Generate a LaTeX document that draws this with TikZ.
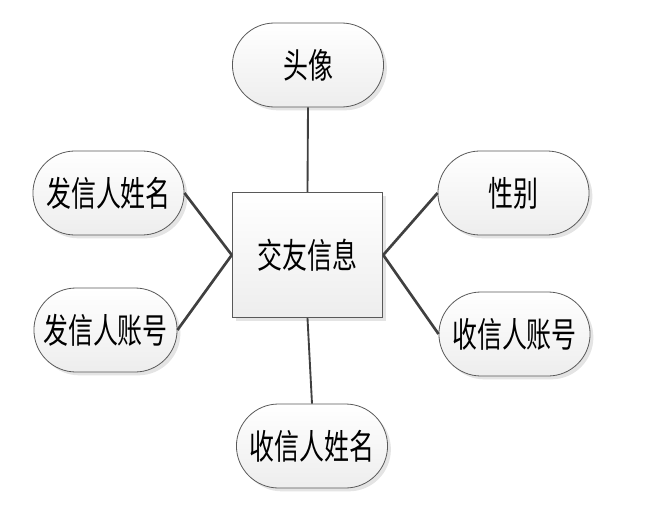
\documentclass[tikz,border=0pt]{standalone}
\usepackage{fontspec}
\newfontfamily\cjk{Noto Sans CJK SC}
\usetikzlibrary{positioning,shapes.misc,shadows}

\newcommand{\zh}[1]{\scalebox{0.72}[1]{\cjk\fontsize{26}{30}\selectfont #1}}

\tikzset{
  attr/.style={rounded rectangle, draw=gray!70!black, line width=0.6pt,
    top color=white, bottom color=gray!14, minimum width=120pt, minimum height=63pt,
    drop shadow={shadow xshift=2.5pt, shadow yshift=-2.5pt, fill=gray!35, opacity=0.6}},
  entity/.style={rectangle, draw=gray!70!black, line width=0.6pt,
    top color=white, bottom color=gray!14, minimum width=113pt, minimum height=94pt,
    drop shadow={shadow xshift=2.5pt, shadow yshift=-2.5pt, fill=gray!35, opacity=0.6}},
  link/.style={draw=black!75, line width=2pt}
}

\begin{document}
\begin{tikzpicture}[x=0.75pt, y=-0.75pt]
\useasboundingbox (0,0) rectangle (658,514);

\node[entity] (info) at (307.5,255) {\zh{交友信息}};

\node[attr] (avatar) at (308,65) {\zh{头像}};
\node[attr] (sname) at (108.5,193) {\zh{发信人姓名}};
\node[attr, minimum width=114pt] (sacct) at (105.5,330) {\zh{发信人账号}};
\node[attr] (gender) at (513.5,193) {\zh{性别}};
\node[attr] (racct) at (514.5,334) {\zh{收信人账号}};
\node[attr] (rname) at (312,446) {\zh{收信人姓名}};

% connectors
\draw[link, line width=1.4pt] (avatar.south) -- (info.north);
\draw[link] (sname.east) -- (info.west);
\draw[link] (sacct.east) -- (info.west);
\draw[link] (gender.west) -- (info.east);
\draw[link] (racct.west) -- (info.east);
\draw[link, line width=1.4pt] (info.south) -- (rname.north);

\end{tikzpicture}
\end{document}
